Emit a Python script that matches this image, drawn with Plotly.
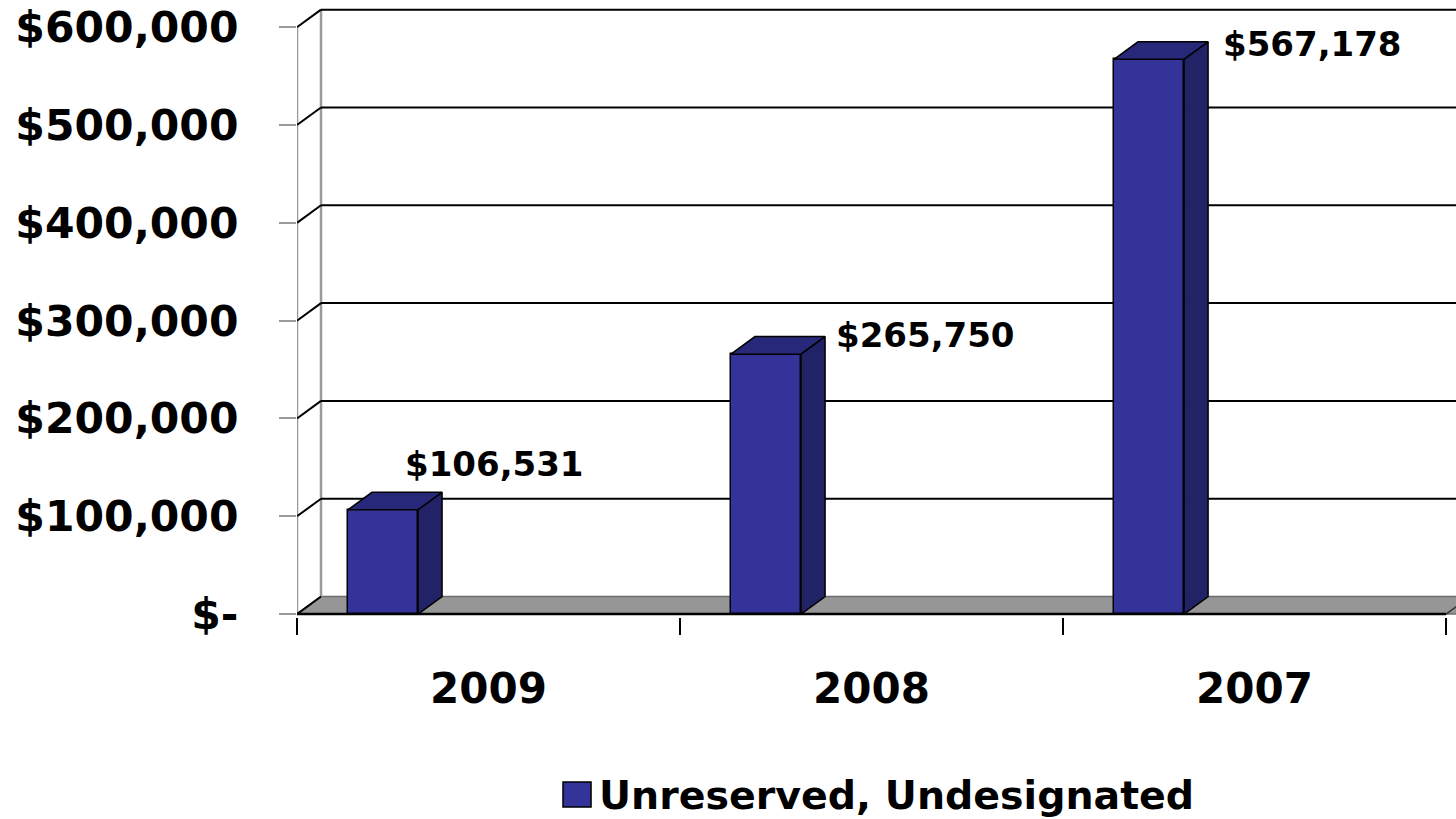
import plotly.graph_objects as go

# Fund balance by fiscal year
years = ["2009", "2008", "2007"]
balances = [106531, 265750, 567178]
label_texts = ["$106,531", "$265,750", "$567,178"]
series_name = "Unreserved, Undesignated"

y_tick_values = [0, 100000, 200000, 300000, 400000, 500000, 600000]
y_tick_labels = ["$-", "$100,000", "$200,000", "$300,000", "$400,000", "$500,000", "$600,000"]

# Styling / pseudo-3D geometry (in axis units)
FRONT = "#333399"
TOP = "#28287a"
SIDE = "#222266"
FLOOR = "#969696"
DEPTH_X = 0.0627        # horizontal depth shift in category units
DEPTH_Y = 17900         # vertical depth shift in value units
BAR_OFFSET = 0.133      # bar front-left edge inside its category slot
BAR_WIDTH = 0.183
X_MAX = 3.026
Y_MIN, Y_MAX = -3000, 627800
label_dx = [0.276, 0.401, 0.412]
label_dy = [47300, 19400, 15500]
FONT = "DejaVu Sans"

fig = go.Figure()

# front faces of the bars
bar_x = [i + BAR_OFFSET + BAR_WIDTH / 2 for i in range(len(years))]
fig.add_trace(go.Bar(
    x=bar_x, y=balances, width=BAR_WIDTH, base=0,
    marker=dict(color=FRONT, line=dict(color="black", width=1.5)),
    name=series_name, showlegend=False, hoverinfo="skip",
))

# top and side faces
for i, v in enumerate(balances):
    xl = i + BAR_OFFSET
    xr = xl + BAR_WIDTH
    fig.add_trace(go.Scatter(
        x=[xl, xl + DEPTH_X, xr + DEPTH_X, xr, xl],
        y=[v, v + DEPTH_Y, v + DEPTH_Y, v, v],
        mode="lines", fill="toself", fillcolor=TOP,
        line=dict(color="black", width=1.5), showlegend=False, hoverinfo="skip",
    ))
    fig.add_trace(go.Scatter(
        x=[xr, xr, xr + DEPTH_X, xr + DEPTH_X, xr],
        y=[0, v, v + DEPTH_Y, DEPTH_Y, 0],
        mode="lines", fill="toself", fillcolor=SIDE,
        line=dict(color="black", width=1.5), showlegend=False, hoverinfo="skip",
    ))

shapes = []
# floor
shapes.append(dict(
    type="path", xref="x", yref="y", layer="below",
    path=f"M0,0 L{DEPTH_X},{DEPTH_Y} L{X_MAX + 1},{DEPTH_Y} L{X_MAX + 1},0 Z",
    fillcolor=FLOOR, line=dict(color="#6e6e6e", width=1.5),
))
# back wall and front axis verticals
shapes.append(dict(type="line", xref="x", yref="y", layer="below",
                   x0=DEPTH_X, x1=DEPTH_X, y0=DEPTH_Y, y1=y_tick_values[-1] + DEPTH_Y,
                   line=dict(color="#9a9a9a", width=2.5)))
shapes.append(dict(type="line", xref="x", yref="y", layer="below",
                   x0=0, x1=0, y0=0, y1=y_tick_values[-1],
                   line=dict(color="#9a9a9a", width=2.5)))
# gridlines: side-wall diagonal + back-wall horizontal
for v in y_tick_values:
    shapes.append(dict(type="line", xref="x", yref="y", layer="below",
                       x0=0, x1=DEPTH_X, y0=v, y1=v + DEPTH_Y,
                       line=dict(color="black", width=2)))
    if v > 0:
        shapes.append(dict(type="line", xref="x", yref="y", layer="below",
                           x0=DEPTH_X, x1=X_MAX + 1, y0=v + DEPTH_Y, y1=v + DEPTH_Y,
                           line=dict(color="black", width=2)))
# front edge of the floor
shapes.append(dict(type="line", xref="x", yref="y", layer="below",
                   x0=0, x1=len(years), y0=0, y1=0,
                   line=dict(color="black", width=2.5)))
shapes.append(dict(type="line", xref="x", yref="y", layer="below",
                   x0=len(years), x1=len(years) + DEPTH_X, y0=0, y1=DEPTH_Y,
                   line=dict(color="#333333", width=1.5)))

# legend swatch
shapes.append(dict(type="rect", xref="paper", yref="paper",
                   x0=0.2295, x1=0.2537, y0=-0.308, y1=-0.2674,
                   fillcolor=FRONT, line=dict(color="black", width=1.5)))

annotations = []
for i, (v, t) in enumerate(zip(balances, label_texts)):
    annotations.append(dict(
        x=i + label_dx[i], y=v + label_dy[i], xref="x", yref="y",
        text=t, showarrow=False, xanchor="left", yanchor="middle",
        font=dict(family=FONT, size=34, color="black", weight="bold"),
    ))
annotations.append(dict(
    x=0.2588, y=-0.2885, xref="paper", yref="paper", text=series_name,
    showarrow=False, xanchor="left", yanchor="middle",
    font=dict(family=FONT, size=39.5, color="black", weight="bold"),
))

fig.update_layout(
    width=1456, height=819,
    margin=dict(l=297, r=0, t=0, b=202),
    paper_bgcolor="white", plot_bgcolor="white",
    shapes=shapes, annotations=annotations,
    showlegend=False, bargap=0,
    xaxis=dict(
        range=[0, X_MAX], showgrid=False, zeroline=False, showline=False,
        tickmode="array", tickvals=[i + 0.5 for i in range(len(years))], ticktext=years,
        ticks="", ticklabelstandoff=43,
        tickfont=dict(family=FONT, size=42, color="black", weight="bold"),
        minor=dict(tickmode="array", tickvals=list(range(len(years) + 1)),
                   ticks="outside", ticklen=17, tickcolor="black", tickwidth=1.5,
                   showgrid=False),
    ),
    yaxis=dict(
        range=[Y_MIN, Y_MAX], showgrid=False, zeroline=False, showline=False,
        tickmode="array", tickvals=y_tick_values, ticktext=y_tick_labels,
        ticks="outside", ticklen=17, tickcolor="#9a9a9a", tickwidth=2,
        ticklabelstandoff=32,
        tickfont=dict(family=FONT, size=42.5, color="black", weight="bold"),
    ),
)

fig.write_html("out.html")
